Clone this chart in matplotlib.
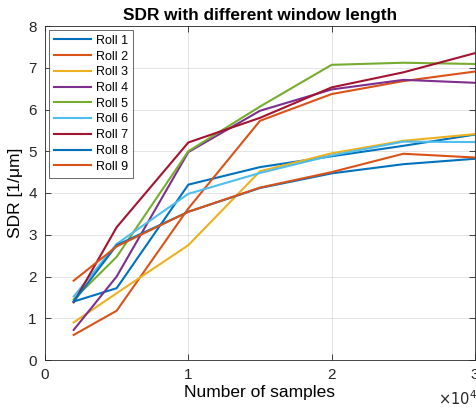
import numpy as np
import matplotlib
matplotlib.use("Agg")
import matplotlib.pyplot as plt

plt.rcParams['font.family'] = ['Liberation Sans', 'DejaVu Sans']

samples = [2000, 5000, 10000, 15000, 20000, 25000, 30000]
roll_names = ["Roll 1", "Roll 2", "Roll 3", "Roll 4", "Roll 5",
              "Roll 6", "Roll 7", "Roll 8", "Roll 9"]
roll1 = [1.40, 1.72, 4.20, 4.62, 4.88, 5.13, 5.40]
roll2 = [0.60, 1.18, 3.63, 5.73, 6.37, 6.68, 6.91]
roll3 = [0.90, 1.60, 2.75, 4.52, 4.95, 5.25, 5.41]
roll4 = [0.72, 2.00, 4.98, 5.97, 6.48, 6.71, 6.64]
roll5 = [1.45, 2.47, 5.00, 6.07, 7.07, 7.12, 7.09]
roll6 = [1.52, 2.78, 3.98, 4.48, 4.90, 5.23, 5.22]
roll7 = [1.38, 3.18, 5.21, 5.80, 6.53, 6.89, 7.35]
roll8 = [1.40, 2.75, 3.55, 4.12, 4.47, 4.69, 4.82]
roll9 = [1.90, 2.72, 3.55, 4.13, 4.50, 4.94, 4.85]
rolls = [roll1, roll2, roll3, roll4, roll5, roll6, roll7, roll8, roll9]

colors = ["#0072BD", "#D95319", "#EDB120", "#7E2F8E", "#77AC30",
          "#4DBEEE", "#A2142F", "#0072BD", "#D95319"]

fig = plt.figure(figsize=(4.76, 4.12), dpi=100)
ax = fig.add_axes([45/476, 52/412, 430/476, 334/412])

for name, vals, c in zip(roll_names, rolls, colors):
    ax.plot(samples, vals, color=c, lw=1.5, label=name)

ax.set_xlim(0, 30000)
ax.set_ylim(0, 8)
ax.set_xticks([0, 10000, 20000, 30000])
ax.set_xticklabels(["0", "1", "2", "3"])
ax.set_yticks(range(0, 9))
ax.tick_params(direction="in", length=4, width=0.6, colors="#262626",
               labelsize=11, top=True, right=True, pad=6)
for s in ax.spines.values():
    s.set_color("#262626")
    s.set_linewidth(0.6)
ax.grid(True, color="#000000", alpha=0.12, lw=0.6)

ax.set_title("SDR with different window length", fontsize=12.4,
             fontweight="bold", pad=4)
ax.set_xlabel("Number of samples", fontsize=12.5, labelpad=2)
ax.set_ylabel("SDR [1/\u03bcm]", fontsize=12.5, labelpad=4)
fig.text(438/476, 1 - 405/412, r"$\times10^{4}$", fontsize=10.5,
         color="#262626")

leg = ax.legend(loc="upper left", fontsize=9, handlelength=3.0,
                handletextpad=0.4, labelspacing=0.3, borderpad=0.4,
                fancybox=False, borderaxespad=0.3)
leg.get_frame().set_edgecolor("#262626")
leg.get_frame().set_linewidth(0.6)

fig.savefig("out.png", dpi=100)
